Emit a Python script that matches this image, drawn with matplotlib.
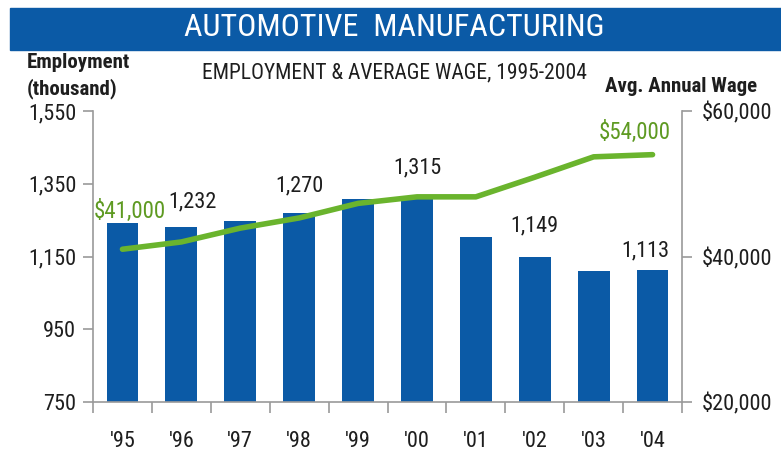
import matplotlib.pyplot as plt
from matplotlib.patches import Rectangle
from matplotlib.ticker import FuncFormatter

plt.rcParams['font.family'] = ['Roboto Condensed', 'DejaVu Sans']

years = ["'95", "'96", "'97", "'98", "'99", "'00", "'01", "'02", "'03", "'04"]
employment = [1241, 1232, 1248, 1270, 1308, 1315, 1204, 1149, 1111, 1113]
avg_wage = [41000, 42000, 43900, 45300, 47300, 48200, 48200, 50900, 53700, 54000]

# which bars get a value label, with (dx, dy) offsets in points
bar_labels = {1: (8, 10), 3: (0, 12), 5: (0, 13), 7: (0, 15), 9: (-5, 6)}
wage_labels = {0: (5, 19), 9: (-13, 8)}

blue = '#0b5aa6'
green = '#6ab42d'
dark_green = '#5e9a22'
grey = '#9a9a9a'
text_col = '#1e1e1e'

fig = plt.figure(figsize=(7.81, 4.51), dpi=100)

# banner
fig.patches.append(Rectangle((10 / 781, 1 - 50 / 451), 1, 42 / 451,
                             transform=fig.transFigure, color=blue, zorder=0))
fig.text(0.505, 1 - 28 / 451, 'AUTOMOTIVE  MANUFACTURING', color='white',
         fontsize=23, ha='center', va='center')

ax = fig.add_axes([93 / 781, 1 - 402 / 451, 589 / 781, 291 / 451])
x = range(len(years))
ax.bar(x, employment, width=0.54, color=blue, zorder=2)
ax.set_xlim(-0.5, 9.5)
ax.set_ylim(750, 1550)
ax.set_yticks([750, 950, 1150, 1350, 1550])
ax.yaxis.set_major_formatter(FuncFormatter(lambda v, p: f'{int(v):,}'))
ax.set_xticks([i + 0.5 for i in range(-1, 10)])
ax.set_xticklabels([])
ax.set_xticks(list(x), minor=True)
ax.set_xticklabels(years, minor=True)
ax.tick_params(axis='x', which='major', length=8, color=grey, width=1.2)
ax.tick_params(axis='x', which='minor', length=0, pad=21, labelsize=16,
               labelcolor=text_col)
ax.tick_params(axis='y', length=7, color=grey, width=1.2, labelsize=16, pad=5,
               labelcolor=text_col)
for side in ['top', 'right']:
    ax.spines[side].set_visible(False)
for side in ['left', 'bottom']:
    ax.spines[side].set_color(grey)
    ax.spines[side].set_linewidth(1.2)

for i, (dx, dy) in bar_labels.items():
    ax.annotate(f'{employment[i]:,}', (i, employment[i]), xytext=(dx, dy),
                textcoords='offset points', ha='center', va='bottom',
                fontsize=16, color=text_col)

ax2 = ax.twinx()
ax2.plot(x, avg_wage, color=green, lw=4, solid_capstyle='round', zorder=3)
ax2.set_ylim(20000, 60000)
ax2.set_yticks([20000, 40000, 60000])
ax2.yaxis.set_major_formatter(FuncFormatter(lambda v, p: f'${int(v):,}'))
ax2.tick_params(axis='y', length=7, color=grey, width=1.2, labelsize=16, pad=7,
                labelcolor=text_col)
for side in ['top', 'left', 'bottom']:
    ax2.spines[side].set_visible(False)
ax2.spines['right'].set_color(grey)
ax2.spines['right'].set_linewidth(1.2)

for i, (dx, dy) in wage_labels.items():
    ax2.annotate(f'${avg_wage[i]:,}', (i, avg_wage[i]), xytext=(dx, dy),
                 textcoords='offset points', ha='center', va='bottom',
                 fontsize=16.5, color=dark_green)

fig.text(27 / 781, 1 - 76 / 451, 'Employment\n(thousand)', fontsize=15,
         fontweight=600, ha='left', va='center', linespacing=1.45,
         color=text_col)
fig.text(394 / 781, 1 - 73 / 451, 'EMPLOYMENT & AVERAGE WAGE, 1995-2004',
         fontsize=15.5, ha='center', va='center', color=text_col)
fig.text(757 / 781, 1 - 87 / 451, 'Avg. Annual Wage', fontsize=15,
         fontweight=600, ha='right', va='center', color=text_col)

fig.savefig('out.png', dpi=100)
